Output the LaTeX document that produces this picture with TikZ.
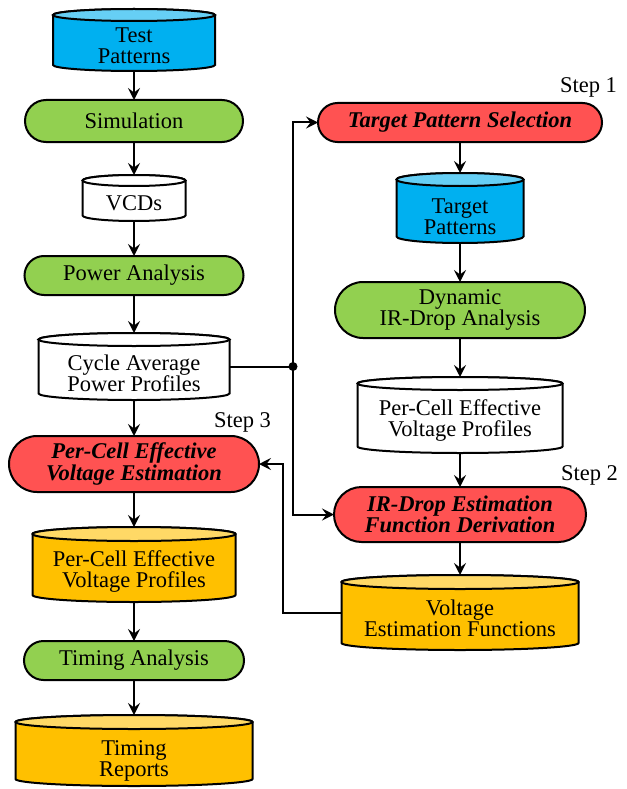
\documentclass[tikz,border=0pt]{standalone}
\usepackage{fontspec}
\setmainfont{Liberation Serif}
\usetikzlibrary{arrows.meta}
\definecolor{cblue}{HTML}{00B0F0}
\definecolor{cbluetop}{HTML}{66CFF5}
\definecolor{cgreen}{HTML}{92D050}
\definecolor{cred}{HTML}{FF5252}
\definecolor{cyel}{HTML}{FFC000}
\definecolor{cyeltop}{HTML}{FFD966}
\newcommand\dbcyl[8]{%
 \pgfmathsetmacro\cylcx{(#2+#3)/2}%
 \pgfmathsetmacro\cylhw{(#3-#2)/2}%
 \pgfmathsetmacro\cylcy{(#4+#5)/2}%
 \filldraw[line width=2pt, fill=#7] (#2,#4+#6) -- (#2,#5-#6) arc[start angle=180,end angle=0,x radius=\cylhw,y radius=#6] -- (#3,#4+#6) arc[start angle=0,end angle=-180,x radius=\cylhw,y radius=#6] -- cycle;
 \filldraw[line width=2pt, fill=#8] (\cylcx,#4+#6) ellipse[x radius=\cylhw,y radius=#6];
 \node[inner sep=0pt, outer sep=0pt, minimum width={#3-#2}, minimum height={#5-#4}] (#1) at (\cylcx,\cylcy) {};
}
\tikzset{
 proc/.style={draw, line width=2pt, inner sep=0pt, outer sep=0pt, align=center, font=\fontsize{22.5}{21}\selectfont},
 redproc/.style={proc, fill=cred, font=\fontsize{22.5}{17.5}\selectfont\bfseries\itshape},
 txt/.style={inner sep=0pt, align=center, font=\fontsize{22.5}{21}\selectfont},
 flow/.style={line width=2pt, -{Stealth[length=12pt,width=12pt,inset=4.5pt]}},
 plain/.style={line width=2pt},
}
\begin{document}
\begin{tikzpicture}[x=1pt,y=-1pt]
\useasboundingbox (0,0) rectangle (626,789);
% left column
\dbcyl{tp}{53}{215}{9}{71}{6}{cblue}{cbluetop}
\node[txt] (tpt) at (134,46) {Test\\Patterns};
\node[proc, fill=cgreen, minimum width=218pt, minimum height=42pt, rounded corners=21pt] (sim) at (134,121) {Simulation};
\dbcyl{vcd}{82.5}{185.5}{175}{221}{5.5}{white}{white}
\node[txt] (vcdt) at (134,203) {VCDs};
\node[proc, fill=cgreen, minimum width=219pt, minimum height=39pt, rounded corners=19.5pt] (pa) at (134,275.5) {Power Analysis};
\dbcyl{cyc}{38.5}{229.5}{333}{400}{6.5}{white}{white}
\node[txt] (cyct) at (134,373.5) {Cycle Average\\Power Profiles};
\node[redproc, minimum width=250pt, minimum height=56pt, rounded corners=28pt] (pce) at (134,464) {Per-Cell Effective\\Voltage Estimation};
\dbcyl{pro}{32.5}{235.5}{527}{602}{7}{cyel}{cyeltop}
\node[txt] (prot) at (134,571.5) {Per-Cell Effective\\Voltage Profiles};
\node[proc, fill=cgreen, minimum width=220pt, minimum height=39pt, rounded corners=19.5pt] (ta) at (134,660.5) {Timing Analysis};
\dbcyl{tr}{15.5}{252.5}{715}{786}{7}{cyel}{cyeltop}
\node[txt] (trt) at (134,761) {Timing\\Reports};
% right column
\node[redproc, minimum width=284pt, minimum height=39pt, rounded corners=19.5pt] (tps) at (460,122.5) {Target Pattern Selection};
\dbcyl{tgp}{396.5}{523.5}{173}{243}{6.5}{cblue}{cbluetop}
\node[txt] (tgpt) at (460,216.5) {Target\\Patterns};
\node[proc, fill=cgreen, minimum width=250pt, minimum height=56pt, rounded corners=28pt, font=\fontsize{22.5}{18}\selectfont] (dyn) at (460,310) {Dynamic\\IR-Drop Analysis};
\dbcyl{wpr}{357.5}{562.5}{377}{453}{6.5}{white}{white}
\node[txt] (wprt) at (460,420.5) {Per-Cell Effective\\Voltage Profiles};
\node[redproc, minimum width=252pt, minimum height=55pt, rounded corners=27.5pt] (ird) at (460,514.5) {IR-Drop Estimation\\Function Derivation};
\dbcyl{vef}{341.5}{578.5}{575}{650}{7}{cyel}{cyeltop}
\node[txt] (veft) at (460,618) {Voltage\\Estimation Functions};
% step labels
\node[txt, anchor=base] (s1) at (588.5,93) {Step 1};
\node[txt, anchor=base] (s2) at (589.5,480) {Step 2};
\node[txt, anchor=base] (s3) at (242.5,427) {Step 3};
% connectors
\draw[flow] (tp) -- (sim);
\draw[flow] (sim) -- (vcd);
\draw[flow] (vcd) -- (pa);
\draw[flow] (pa) -- (cyc);
\draw[flow] (cyc) -- (pce);
\draw[flow] (pce) -- (pro);
\draw[flow] (pro) -- (ta);
\draw[flow] (ta) -- (tr);
\draw[flow] (tps) -- (tgp);
\draw[flow] (tgp) -- (dyn);
\draw[flow] (dyn) -- (wpr);
\draw[flow] (wpr) -- (ird);
\draw[flow] (ird) -- (vef);
\coordinate (J) at (293,366.5);
\coordinate (K) at (283,464);
\draw[plain] (cyc.east) -- (J);
\draw[flow] (J) |- (tps.west);
\draw[flow] (J) |- (ird.west);
\fill (J) circle[radius=4.5];
\draw[flow] (vef.west) -| (K) -- (pce.east);
\end{tikzpicture}
\end{document}
